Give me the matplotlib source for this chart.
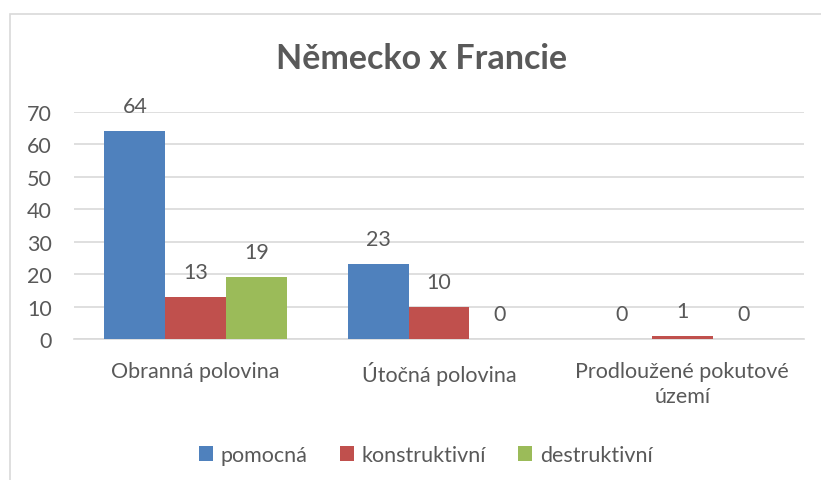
import matplotlib
matplotlib.use("Agg")
import matplotlib.pyplot as plt
import numpy as np
from matplotlib.patches import Rectangle

plt.rcParams['font.family'] = ['Lato', 'DejaVu Sans']

categories = ["Obranná polovina", "Útočná polovina", "Prodloužené pokutové\núzemí"]
series_names = ["pomocná", "konstruktivní", "destruktivní"]
pomocna = [64, 23, 0]
konstruktivni = [13, 10, 1]
destruktivni = [19, 0, 0]
y_ticks = [0, 10, 20, 30, 40, 50, 60, 70]

colors = ["#4F81BD", "#C0504D", "#9BBB59"]
text_color = "#595959"
grid_color = "#D9D9D9"
fs = 15.5

W, H = 821, 481
fig = plt.figure(figsize=(W / 100, H / 100), dpi=100)

# chart frame
fig.patches.append(Rectangle((10 / W, -0.1), 1.2, (H - 15) / H + 0.1,
                             transform=fig.transFigure, fill=False,
                             edgecolor="#D9D9D9", linewidth=1.2))

ax = fig.add_axes([74 / W, 1 - 340 / H, (804 - 74) / W, (340 - 113) / H])

x = np.arange(len(categories))
width = 0.25
for i, (vals, name) in enumerate(zip([pomocna, konstruktivni, destruktivni], series_names)):
    pos = x + (i - 1) * width
    ax.bar(pos, vals, width, color=colors[i], label=name, zorder=3)
    for p, v in zip(pos, vals):
        ax.annotate(str(v), (p, v), xytext=(0, 25), textcoords="offset pixels",
                    ha="center", va="center", fontsize=fs, color=text_color,
                    annotation_clip=False)

ax.set_xlim(-0.5, 2.5)
ax.set_ylim(0, 70)
ax.set_yticks(y_ticks)
ax.yaxis.grid(True, color=grid_color, linewidth=1.2, zorder=0)
ax.set_axisbelow(True)
for s in ["top", "right", "left"]:
    ax.spines[s].set_visible(False)
ax.spines["bottom"].set_color(grid_color)
ax.spines["bottom"].set_linewidth(1.2)
ax.tick_params(axis="both", length=0, labelsize=fs, labelcolor=text_color)
ax.tick_params(axis="y", pad=16)
ax.tick_params(axis="x", pad=16)
ax.set_xticks(x)
ax.set_xticklabels(categories, linespacing=1.3)

fig.text(422 / W, 1 - 59 / H, "Německo x Francie", ha="center", va="center",
         fontsize=24.5, fontweight="bold", color=text_color)

handles, labels = ax.get_legend_handles_labels()
fig.legend(handles, labels, loc="center", bbox_to_anchor=(426 / W, 1 - 456 / H),
           ncol=3, frameon=False, fontsize=fs, labelcolor=text_color,
           handlelength=0.65, handleheight=0.65, handletextpad=0.35,
           columnspacing=1.5)

fig.savefig("out.png", dpi=100)
